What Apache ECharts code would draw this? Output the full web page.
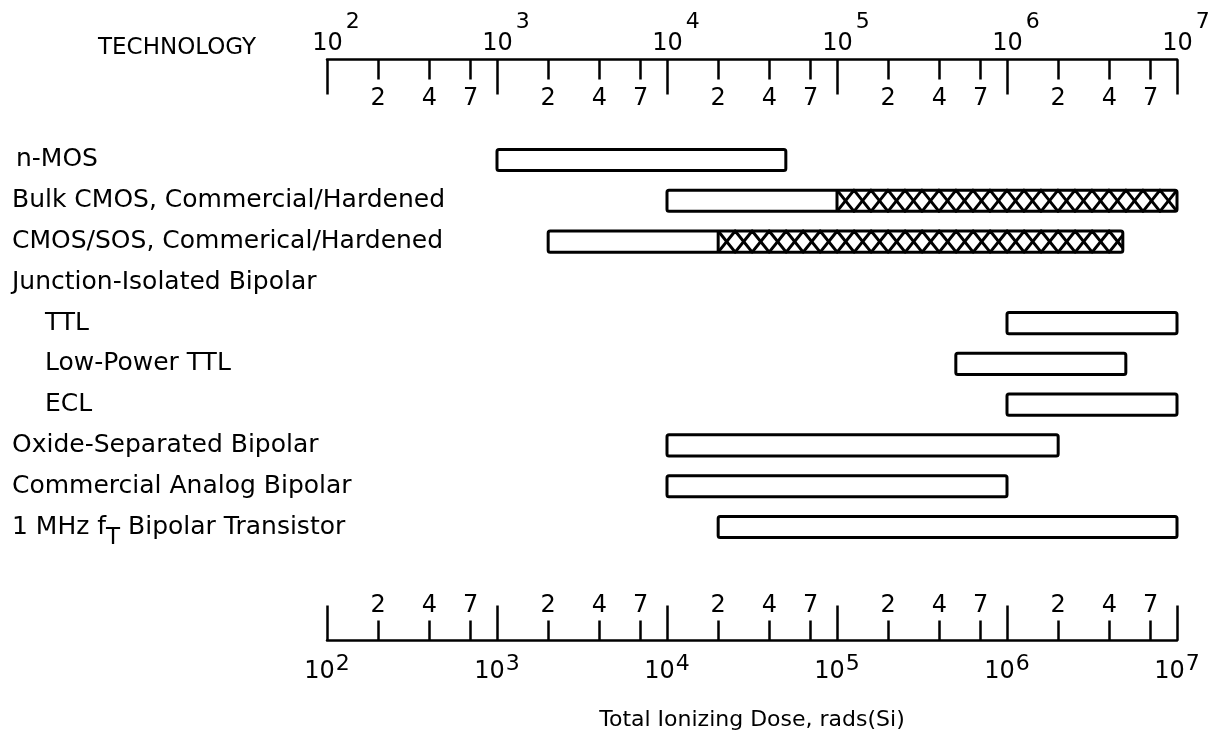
<!DOCTYPE html>
<html>
<head>
<meta charset="utf-8">
<script src="https://cdn.jsdelivr.net/npm/echarts@6/dist/echarts.min.js"></script>
<style>
html,body{margin:0;padding:0;background:#fff;}
#chart{width:1208px;height:742px;}
</style>
</head>
<body>
<div id="chart"></div>
<script>
// ---- data ----
const categories = [
  'n-MOS',
  'Bulk CMOS, Commercial/Hardened',
  'CMOS/SOS, Commerical/Hardened',
  'Junction-Isolated Bipolar',
  'TTL',
  'Low-Power TTL',
  'ECL',
  'Oxide-Separated Bipolar',
  'Commercial Analog Bipolar',
  '1 MHz fT Bipolar Transistor'
];
// total dose range, rads(Si): open bar from rangeLow to rangeHigh,
// hatched (hardened) part from rangeHigh to hardenedHigh
const rangeLow     = [1e3, 1e4, 2e3, null, 1e6, 5e5, 1e6, 1e4, 1e4, 2e4];
const rangeHigh    = [5e4, 1e5, 2e4, null, 1e7, 5e6, 1e7, 2e6, 1e6, 1e7];
const hardenedHigh = [null, 1e7, 4.8e6, null, null, null, null, null, null, null];
const decadeTicks = [1e2, 1e3, 1e4, 1e5, 1e6, 1e7];
const minorTickLabels = [2, 4, 7];
const titleText = 'TECHNOLOGY';
const xAxisTitle = 'Total Ionizing Dose, rads(Si)';
const indentedRows = ['TTL', 'Low-Power TTL', 'ECL'];

// ---- derived (log10 space for the value axes) ----
const decadeLog = decadeTicks.map(v => Math.log10(v));
const minorLog = [];
decadeTicks.slice(0, -1).forEach(d => minorTickLabels.forEach(m => minorLog.push(Math.log10(d * m))));
const seriesData = [];
categories.forEach((c, i) => {
  if (rangeLow[i] == null) return;
  seriesData.push([i, Math.log10(rangeLow[i]), Math.log10(rangeHigh[i]),
    hardenedHigh[i] == null ? '-' : Math.log10(hardenedHigh[i])]);
});

const FONT = 'DejaVu Sans';
const TXT = {fontFamily: FONT, color: '#000'};

function decadeFmt(v) { return '{b|10}{s|' + Math.round(v) + '}'; }
function minorFmt(v) { return String(Math.round(Math.pow(10, v - Math.floor(v + 1e-9)))); }

function renderBar(params, api) {
  const row = api.value(0);
  const pLo = api.coord([api.value(1), row]);
  const pHi = api.coord([api.value(2), row]);
  const hv = api.value(3);
  const hasHard = !isNaN(hv);
  const xEnd = hasHard ? api.coord([hv, row])[0] : pHi[0];
  const h = api.size([0, 1])[1] * 0.52;
  const top = pLo[1] - h / 2, bot = pLo[1] + h / 2;
  const ch = [];
  ch.push({type: 'rect', shape: {x: pLo[0], y: top, width: xEnd - pLo[0], height: h},
    style: {fill: '#fff', stroke: null}});
  if (hasHard) {
    const xs = pHi[0], half = 17;
    ['A', 'B'].forEach((k, idx) => {
      const pts = [];
      let x = xs, up = idx === 0;
      while (x < xEnd) {
        pts.push([x, up ? top : bot]);
        up = !up; x += half;
      }
      const last = pts[pts.length - 1];
      const frac = (xEnd - last[0]) / half;
      const yNext = up ? top : bot;
      pts.push([xEnd, last[1] + (yNext - last[1]) * frac]);
      ch.push({type: 'polyline', shape: {points: pts},
        style: {stroke: '#000', lineWidth: 3, fill: null, lineJoin: 'round'}});
    });
    ch.push({type: 'line', shape: {x1: xs, y1: top, x2: xs, y2: bot},
      style: {stroke: '#000', lineWidth: 3}});
  }
  ch.push({type: 'rect', shape: {x: pLo[0], y: top, width: xEnd - pLo[0], height: h, r: 2},
    style: {fill: null, stroke: '#000', lineWidth: 3}});
  return {type: 'group', children: ch};
}

function axisCommon(pos, offset) {
  return {type: 'value', gridIndex: 0, position: pos, offset: offset, min: 2, max: 7,
    splitLine: {show: false}, axisPointer: {show: false}};
}
const LINE = {color: '#000', width: 2.5};

const option = {
  animation: false,
  backgroundColor: '#fff',
  title: {text: titleText, left: 93, top: 32,
    textStyle: Object.assign({fontSize: 23, fontWeight: 'normal'}, TXT)},
  grid: {left: 327, right: 31, top: 139.6, bottom: 194.6, containLabel: false,
    outerBoundsMode: 'none'},
  xAxis: [
    Object.assign(axisCommon('top', 80), {
      axisLine: {show: true, lineStyle: LINE},
      axisTick: {show: true, inside: true, length: 35, customValues: decadeLog, lineStyle: LINE},
      axisLabel: Object.assign({customValues: decadeLog, formatter: decadeFmt,
        margin: 16, verticalAlign: 'middle', fontSize: 24,
        rich: {b: Object.assign({fontSize: 24, padding: [0, 0, 0, 18]}, TXT),
               s: Object.assign({fontSize: 22, padding: [0, 0, 42, 3]}, TXT)}}, TXT)
    }),
    Object.assign(axisCommon('top', 80), {
      axisLine: {show: false},
      axisTick: {show: true, inside: true, length: 20, customValues: minorLog, lineStyle: LINE},
      axisLabel: Object.assign({customValues: minorLog, formatter: minorFmt, inside: true,
        margin: 39, verticalAlign: 'middle', fontSize: 24}, TXT)
    }),
    Object.assign(axisCommon('bottom', 93), {
      name: xAxisTitle, nameLocation: 'middle', nameGap: 69,
      nameTextStyle: Object.assign({fontSize: 22}, TXT),
      axisLine: {show: true, lineStyle: LINE},
      axisTick: {show: true, inside: true, length: 35, customValues: decadeLog, lineStyle: LINE},
      axisLabel: Object.assign({customValues: decadeLog, formatter: decadeFmt,
        margin: 31, verticalAlign: 'middle', fontSize: 24,
        rich: {b: Object.assign({fontSize: 24}, TXT),
               s: Object.assign({fontSize: 22, padding: [0, 0, 14, 1]}, TXT)}}, TXT)
    }),
    Object.assign(axisCommon('bottom', 93), {
      axisLine: {show: false},
      axisTick: {show: true, inside: true, length: 20, customValues: minorLog, lineStyle: LINE},
      axisLabel: Object.assign({customValues: minorLog, formatter: minorFmt, inside: true,
        margin: 35, verticalAlign: 'middle', fontSize: 24}, TXT)
    })
  ],
  yAxis: {
    type: 'category', data: categories, inverse: true,
    axisLine: {show: false}, axisTick: {show: false}, splitLine: {show: false},
    axisLabel: Object.assign({interval: 0, align: 'left', margin: 315, fontSize: 25,
      formatter: function (v) {
        if (indentedRows.indexOf(v) >= 0) return '{ind|' + v + '}';
        if (v === 'n-MOS') return '{n|' + v + '}';
        return v.replace(' fT ', ' f{sub|T} ');
      },
      rich: {
        ind: Object.assign({fontSize: 25, padding: [0, 0, 0, 33]}, TXT),
        n: Object.assign({fontSize: 25, padding: [0, 0, 0, 4]}, TXT),
        sub: Object.assign({fontSize: 23, padding: [22, 0, 0, 0]}, TXT)
      }}, TXT)
  },
  series: [{
    type: 'custom',
    xAxisIndex: 0,
    renderItem: renderBar,
    encode: {x: [1, 2, 3], y: 0},
    data: seriesData,
    clip: false,
    silent: true
  }]
};

const chart = echarts.init(document.getElementById('chart'), null, {renderer: 'canvas'});
chart.setOption(option);
</script>
</body>
</html>
